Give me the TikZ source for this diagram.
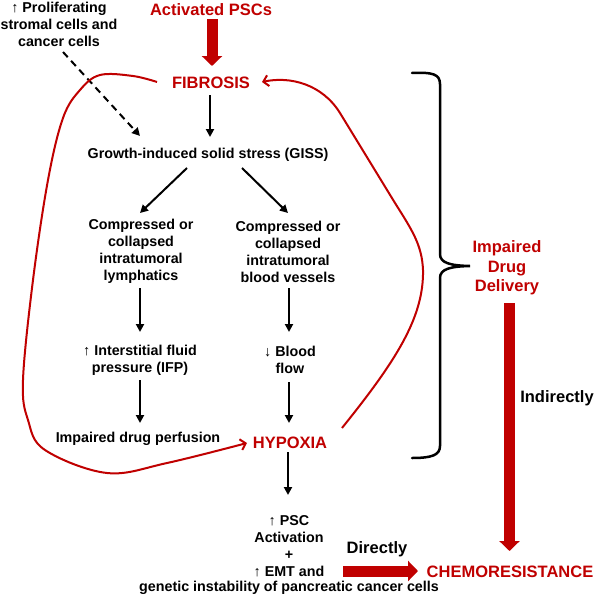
\documentclass[tikz,border=0pt]{standalone}
\usepackage{fontspec}
\setmainfont{Liberation Sans}
\usetikzlibrary{arrows.meta,calc}
\definecolor{dred}{RGB}{192,0,0}
\tikzset{
  small/.style={font=\fontsize{14.3}{17}\selectfont\bfseries, align=center, inner sep=0pt},
  big/.style={font=\fontsize{16.5}{19.5}\selectfont\bfseries, align=center, inner sep=0pt},
  redtxt/.style={big, text=dred},
  blk/.style={line width=2pt, -{Triangle[length=8pt,width=8pt]}},
  fat/.style={dred, line width=11pt, -{Triangle[length=10pt,width=20pt]}},
  redloop/.style={dred, line width=2pt, -{Straight Barb[length=5pt,width=11pt]}},
  bracepath/.style={line width=2.5pt, line cap=round},
}
\begin{document}
\begin{tikzpicture}[x=1pt,y=-1pt]
\fill[white] (0,0) rectangle (595,597);
\useasboundingbox (0,0) rectangle (595,597);

% nodes
\node[small] (prolif) at (59,24) {↑ Proliferating\\stromal cells and\\cancer cells};
\node[redtxt] (act) at (211,10) {Activated PSCs};
\node[redtxt] (fib) at (211,83) {FIBROSIS};
\node[small] (giss) at (208,155) {Growth-induced solid stress (GISS)};
\node[small] (lym) at (141,251.5) {Compressed or\\collapsed\\intratumoral\\lymphatics};
\node[small] (bv) at (288,251.5) {Compressed or\\collapsed\\intratumoral\\blood vessels};
\node[small] (ifp) at (140,360) {↑ Interstitial fluid\\pressure (IFP)};
\node[small] (bf) at (290,360) {↓ Blood\\flow};
\node[small] (idp) at (138,439) {Impaired drug perfusion};
\node[redtxt] (hyp) at (290,443) {HYPOXIA};
\node[small, font=\fontsize{14.3}{16.6}\selectfont\bfseries] (psc) at (289,537.5) {↑ PSC\\Activation\\+};
\node[small] (emt) at (289,572) {↑ EMT and};
\node[small] (gen) at (289,588) {genetic instability of pancreatic cancer cells};
\node[redtxt] (idd) at (507,268) {Impaired\\Drug\\Delivery};
\node[big] (ind) at (557,398) {Indirectly};
\node[big] (dir) at (377,549) {Directly};
\node[redtxt] (chemo) at (510,572) {CHEMORESISTANCE};

% fat red arrows
\draw[fat] ($(act)+(1,9)$) -- ($(fib)+(1,-17)$);
\draw[fat] ($(idd)+(2.5,35)$) -- ($(chemo)+(-0.5,-21)$);
\draw[fat] ($(emt)+(54,-1)$) -- ($(chemo)+(-92,-1)$);

% black arrows
\draw[blk] ($(fib)+(-1,12)$) -- ($(giss)+(2,-18)$);
\draw[blk] ($(giss)+(-21,13)$) -- ($(lym)+(-1,-38.5)$);
\draw[blk] ($(giss)+(34,13)$) -- ($(bv)+(0,-38.5)$);
\draw[blk] ($(lym)+(-1,36.5)$) -- ($(ifp)+(0,-28)$);
\draw[blk] ($(bv)+(1,36.5)$) -- ($(bf)+(-1,-28)$);
\draw[blk] ($(ifp)+(0,20)$) -- ($(idp)+(2,-16)$);
\draw[blk] ($(bf)+(-1,22)$) -- ($(hyp)+(-1,-20)$);
\draw[blk] ($(hyp)+(-2,9)$) -- ($(psc)+(-1,-42.5)$);
\draw[blk, dash pattern=on 7pt off 5pt] ($(prolif)+(4,28)$) -- ($(giss)+(-68,-19)$);

% red feedback loops
\draw[redloop] plot[smooth, tension=0.6] coordinates {($(fib)+(-54,-1)$) (133,76) (100,75) (80,90) (63,118) (48,180) (33,280) (23,380) (28,420) (45,450) (107,473) (167,463) ($(hyp)+(-43,0)$)};
\draw[redloop] ($(hyp)+(52,-15)$) .. controls (395,362) and (424,318) .. (423,270)
  .. controls (422,245) and (412,230) .. (395,203) -- (340,113)
  .. controls (322,84) and (290,76) .. ($(fib)+(51,-1)$);

% brace
\draw[bracepath] (412,73) .. controls (432,72) and (440,74) .. (440,84) -- (440,254)
  .. controls (440,263) and (450,265.5) .. (470,266)
  .. controls (450,266.5) and (440,269) .. (440,278) -- (440,446)
  .. controls (440,455) and (432,458) .. (412,458);
\end{tikzpicture}
\end{document}
